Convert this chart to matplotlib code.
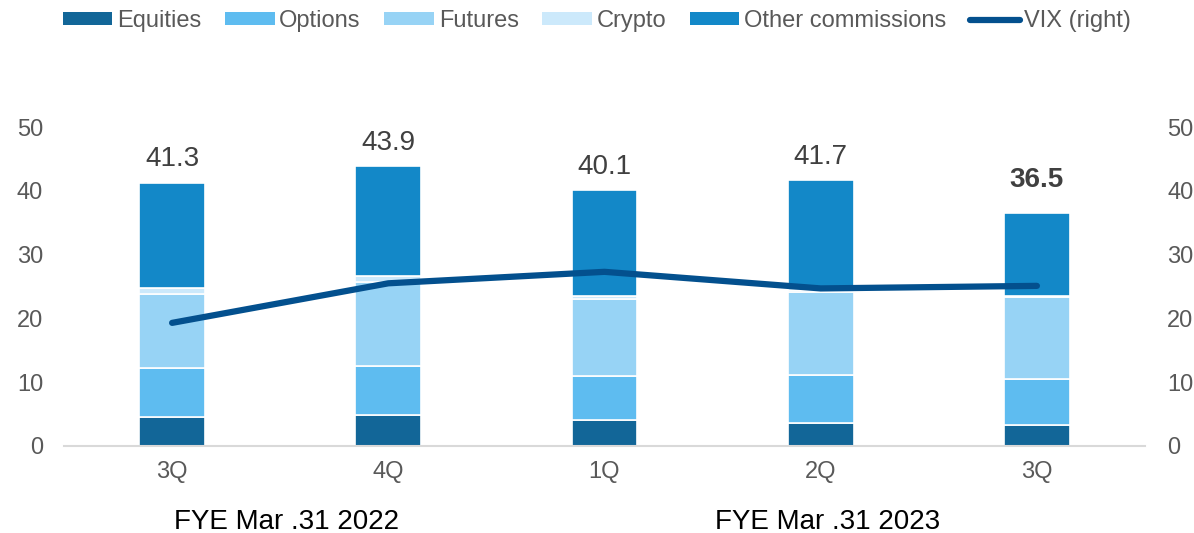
import matplotlib
matplotlib.use("Agg")
import matplotlib.pyplot as plt
import numpy as np
from matplotlib.lines import Line2D
from matplotlib.patches import Patch

plt.rcParams['font.family'] = ['Liberation Sans', 'DejaVu Sans']

categories = ["3Q", "4Q", "1Q", "2Q", "3Q"]
equities = [4.6, 4.8, 4.0, 3.6, 3.3]
options = [7.6, 7.8, 7.0, 7.5, 7.2]
futures = [11.6, 13.1, 12.0, 13.1, 12.8]
crypto = [1.0, 0.9, 0.5, 0.2, 0.2]
other = [16.5, 17.3, 16.6, 17.3, 13.0]
totals = [41.3, 43.9, 40.1, 41.7, 36.5]
vix = [19.3, 25.5, 27.3, 24.7, 25.1]
fy_labels = ["FYE Mar .31 2022", "FYE Mar .31 2023"]

series = [("Equities", equities, "#126698"),
          ("Options", options, "#5EBCF0"),
          ("Futures", futures, "#97D3F5"),
          ("Crypto", crypto, "#CCE9FB"),
          ("Other commissions", other, "#1388C8")]

fig = plt.figure(figsize=(11.94, 5.33), dpi=100)
ax = fig.add_axes([64/1194, 1-446/533, (1145-64)/1194, (446-127)/533])
ax2 = ax.twinx()

x = np.arange(len(categories))
bottom = np.zeros(len(categories))
handles = []
for name, vals, col in series:
    ax.bar(x, vals, width=0.305, bottom=bottom, color=col, edgecolor="white",
           linewidth=1.2, zorder=2)
    bottom += np.array(vals)
    handles.append(Patch(facecolor=col, edgecolor="none", label=name))

ax2.plot(x, vix, color="#03508E", linewidth=4.5, solid_capstyle="round",
         solid_joinstyle="round", zorder=3)
handles.append(Line2D([0], [0], color="#03508E", linewidth=4.5,
                      solid_capstyle="round", label="VIX (right)"))

for i, t in enumerate(totals):
    bold = (i == len(totals) - 1)
    ax.annotate(f"{t:.1f}", (x[i], t), xytext=(0, 14.5 if bold else 7.5),
                textcoords="offset points",
                ha="center", va="bottom", fontsize=20, color="#404040",
                fontweight="bold" if bold else "normal")

for a in (ax, ax2):
    a.set_ylim(0, 50)
    a.set_yticks([0, 10, 20, 30, 40, 50])
    for s in a.spines.values():
        s.set_visible(False)
ax.tick_params(axis="y", length=0, labelsize=17, labelcolor="#595959", pad=15)
ax2.tick_params(axis="y", length=0, labelsize=17, labelcolor="#595959", pad=16)
ax.set_xlim(-0.5, 4.5)
ax.spines["bottom"].set_visible(True)
ax.spines["bottom"].set_color("#D9D9D9")
ax.spines["bottom"].set_linewidth(1.5)
ax.set_xticks(x)
ax.set_xticklabels(categories)
ax.tick_params(axis="x", length=0, labelsize=17, labelcolor="#595959", pad=11)

trans = matplotlib.transforms.blended_transform_factory(ax.transData, fig.transFigure)
ax.text(0.53, 1 - 522/533, fy_labels[0], transform=trans, ha="center", va="center",
        fontsize=20, color="#000000")
ax.text(3.03, 1 - 522/533, fy_labels[1], transform=trans, ha="center", va="center",
        fontsize=20, color="#000000")

leg = fig.legend(handles=handles, loc="center", bbox_to_anchor=(0.5, 1 - 21/533),
                 ncol=6, frameon=False, fontsize=17, handlelength=2.1,
                 handleheight=0.45, handletextpad=0.2, columnspacing=1.0,
                 labelcolor="#595959")

fig.savefig("out.png", dpi=100)
